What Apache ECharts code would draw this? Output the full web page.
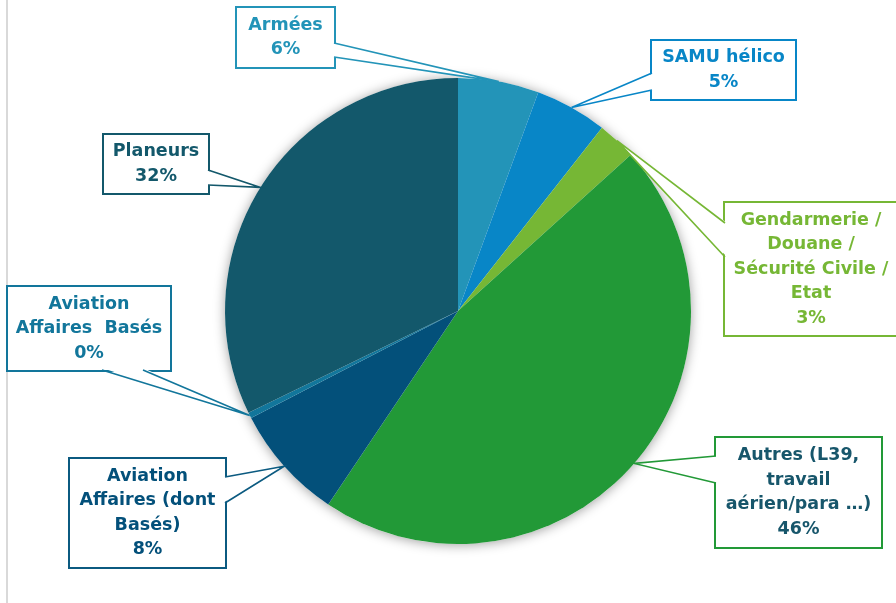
<!DOCTYPE html>
<html>
<head>
<meta charset="utf-8">
<script src="https://cdn.jsdelivr.net/npm/echarts@6/dist/echarts.min.js"></script>
<style>
  html, body { margin: 0; padding: 0; background: #ffffff; }
  #chart { width: 896px; height: 603px; }
</style>
</head>
<body>
<div id="chart"></div>
<script>
// Traffic share by user category (percent)
const categories = [
  'Armées',
  'SAMU hélico',
  'Gendarmerie /\nDouane /\nSécurité Civile /\nEtat',
  'Autres (L39,\ntravail\naérien/para …)',
  'Aviation\nAffaires (dont\nBasés)',
  'Aviation\nAffaires  Basés',
  'Planeurs'
];
const shares = [5.6, 5.0, 2.7, 46.1, 8.0, 0.4, 32.2];

const sliceColors  = ['#2394b8', '#0886c7', '#76b735', '#229937', '#03507a', '#12769b', '#13586b'];
const textColors   = ['#2394b8', '#0886c7', '#76b735', '#17566b', '#03507a', '#12769b', '#13586b'];
const borderColors = ['#2394b8', '#0886c7', '#76b735', '#229937', '#0b5a80', '#12769b', '#13586b'];

// Callout boxes: [left, top, width, height]
const calloutBoxes = [
  [237, 8, 97, 59],
  [652, 41, 143, 58],
  [725, 203, 172, 132],
  [716, 438, 165, 109],
  [70, 459, 155, 108],
  [8, 287, 162, 83],
  [104, 135, 104, 58]
];
// Where each callout's pointer leaves its box: side, then the two offsets along that side
const calloutAnchors = [
  ['right', 43, 57],
  ['left', 73, 90],
  ['left', 223, 257],
  ['left', 456, 483],
  ['right', 477, 503],
  ['bottom', 102, 143],
  ['right', 170, 185]
];

const CX = 458, CY = 311, R = 233;
const FONT_SIZE = 17.5, LINE_H = 24.5;

const chart = echarts.init(document.getElementById('chart'), null, { renderer: 'canvas' });

const pieData = categories.map((name, i) => {
  const [, , w, h] = calloutBoxes[i];
  const lines = name.split('\n').length + 1;
  const padV = Math.max(0, (h - lines * LINE_H) / 2);
  return {
    name: name,
    value: shares[i],
    itemStyle: { color: sliceColors[i] },
    label: {
      color: textColors[i],
      borderColor: borderColors[i],
      width: w - 4,
      padding: [padV, 2]
    }
  };
});

chart.setOption({
  animation: false,
  backgroundColor: '#ffffff',
  series: [
    {
      // soft drop shadow under the whole disc
      type: 'pie',
      silent: true,
      center: [CX, CY],
      radius: R,
      label: { show: false },
      labelLine: { show: false },
      emphasis: { disabled: true },
      itemStyle: {
        color: '#ffffff',
        shadowBlur: 12,
        shadowColor: 'rgba(0,0,0,0.38)',
        shadowOffsetX: 0,
        shadowOffsetY: 1
      },
      data: [{ value: 1, name: '' }],
      z: 1
    },
    {
      type: 'pie',
      center: [CX, CY],
      radius: R,
      startAngle: 90,
      clockwise: true,
      avoidLabelOverlap: false,
      percentPrecision: 0,
      emphasis: { disabled: true },
      itemStyle: { borderWidth: 0 },
      label: {
        show: true,
        position: 'outside',
        formatter: '{b}\n{d}%',
        fontFamily: 'DejaVu Sans',
        fontWeight: 'bold',
        fontSize: FONT_SIZE,
        lineHeight: LINE_H,
        backgroundColor: '#ffffff',
        borderWidth: 2,
        align: 'center'
      },
      labelLine: { show: false },
      labelLayout: function (params) {
        const [x, y, w, h] = calloutBoxes[params.dataIndex];
        return { x: x + w / 2, y: y + h / 2, align: 'center', verticalAlign: 'middle' };
      },
      data: pieData,
      z: 2
    }
  ]
});

// Pointer tips sit on the rim at each slice's mid angle, taken from the pie layout
function sliceTip(i) {
  try {
    const d = chart.getModel().getSeriesByIndex(1).getData();
    const lay = d.getItemLayout(i);
    const mid = (lay.startAngle + lay.endAngle) / 2;
    return [lay.cx + lay.r * Math.cos(mid), lay.cy + lay.r * Math.sin(mid)];
  } catch (e) {
    const total = shares.reduce((a, b) => a + b, 0);
    let cum = 0;
    for (let k = 0; k < i; k++) cum += shares[k];
    const a = (cum + shares[i] / 2) / total * Math.PI * 2;
    return [CX + R * Math.sin(a), CY - R * Math.cos(a)];
  }
}

const graphics = [{
  type: 'line',
  shape: { x1: 7, y1: 0, x2: 7, y2: 603 },
  style: { stroke: '#d9d9d9', lineWidth: 2 },
  z: 0
}];

categories.forEach((_, i) => {
  const [bx, by, bw, bh] = calloutBoxes[i];
  const [side, a, b] = calloutAnchors[i];
  let p1, p2, in1, in2;
  if (side === 'right') {
    p1 = [bx + bw, a]; p2 = [bx + bw, b];
    in1 = [bx + bw - 2, a]; in2 = [bx + bw - 2, b];
  } else if (side === 'left') {
    p1 = [bx, a]; p2 = [bx, b];
    in1 = [bx + 2, a]; in2 = [bx + 2, b];
  } else {
    p1 = [a, by + bh]; p2 = [b, by + bh];
    in1 = [a, by + bh - 2]; in2 = [b, by + bh - 2];
  }
  const tip = sliceTip(i);
  graphics.push({
    type: 'polygon',
    shape: { points: [in1, tip, in2] },
    style: { fill: '#ffffff', stroke: null },
    silent: true,
    z: 50
  });
  graphics.push({
    type: 'polyline',
    shape: { points: [p1, tip, p2] },
    style: { stroke: borderColors[i], lineWidth: 1.6, fill: null },
    silent: true,
    z: 51
  });
});

chart.setOption({ graphic: graphics });
</script>
</body>
</html>
